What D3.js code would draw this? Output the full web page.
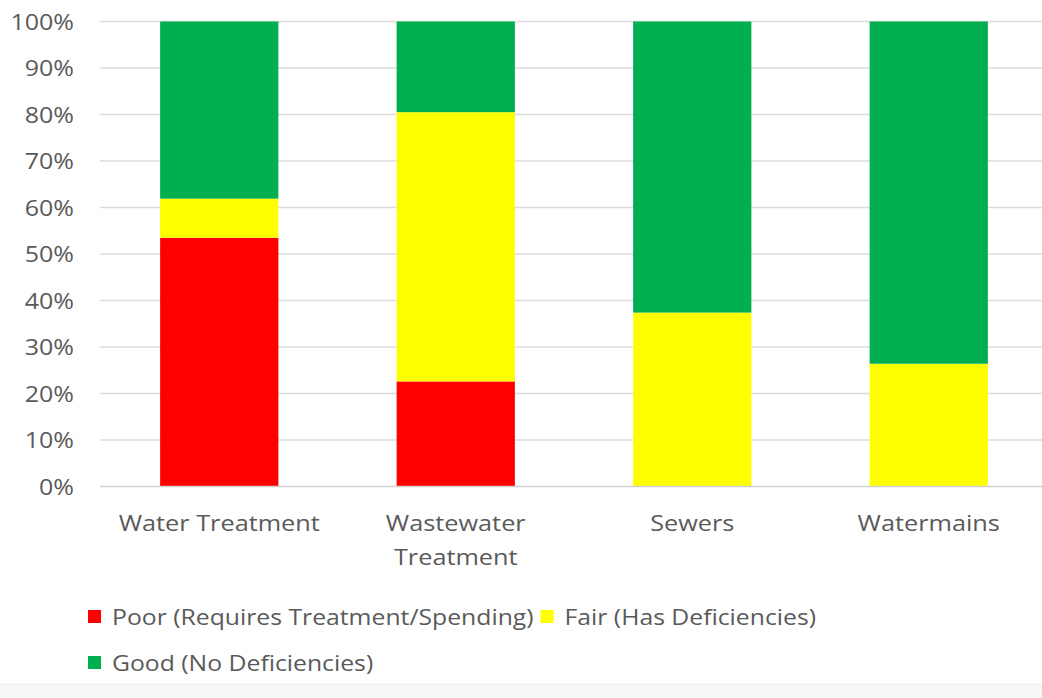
<!DOCTYPE html>
<html>
<head>
<meta charset="utf-8">
<script src="https://cdn.jsdelivr.net/npm/d3@7"></script>
<style>
  html, body { margin: 0; padding: 0; background: #ffffff; }
  svg { display: block; }
  text { font-family: "Open Sans", sans-serif; fill: #5a5a5a; }
</style>
</head>
<body>
<svg id="chart" width="1042" height="698"></svg>
<script>
// ---- data ----
const categories = ["Water Treatment", "Wastewater Treatment", "Sewers", "Watermains"];
const seriesNames = ["Poor (Requires Treatment/Spending)", "Fair (Has Deficiencies)", "Good (No Deficiencies)"];
const poorValues = [53.5, 22.6, 0, 0];
const fairValues = [8.4, 57.9, 37.4, 26.4];
const goodValues = [38.1, 19.5, 62.6, 73.6];
const yTicks = [0, 10, 20, 30, 40, 50, 60, 70, 80, 90, 100];
const seriesColors = ["#ff0000", "#ffff00", "#00b050"];

// ---- build table ----
const keys = ["poor", "fair", "good"];
const table = categories.map((c, i) => ({
  category: c, poor: poorValues[i], fair: fairValues[i], good: goodValues[i]
}));
const stacked = d3.stack().keys(keys)(table);

const svg = d3.select("#chart");
const W = 1042, H = 698;

// faint bottom strip
svg.append("rect").attr("x", 0).attr("y", 684).attr("width", W).attr("height", H - 684).attr("fill", "#f6f6f6");
svg.append("line").attr("x1", 0).attr("x2", W).attr("y1", 684).attr("y2", 684).attr("stroke", "#ececec");

const x = d3.scaleBand().domain(categories).range([101, 1047]).paddingInner(0.5).paddingOuter(0.25);
const y = d3.scaleLinear().domain([0, 100]).range([486.5, 21.5]);

// gridlines
svg.append("g").selectAll("line").data(yTicks.filter(t => t > 0)).join("line")
  .attr("x1", 100).attr("x2", W)
  .attr("y1", d => y(d)).attr("y2", d => y(d))
  .attr("stroke", "#dcdcdc").attr("stroke-width", 1.5);

// y axis labels
const yAxis = d3.axisLeft(y).tickValues(yTicks).tickFormat(d => d + "%").tickSize(0).tickPadding(0);
const yg = svg.append("g").attr("transform", "translate(74,0)").call(yAxis);
yg.select(".domain").remove();
yg.selectAll("text").style("font-size", "21px").style("font-family", "'Open Sans', sans-serif")
  .attr("fill", "#5a5a5a").attr("dy", "0.36em").attr("transform", "scale(1.19,1)");

// bars
svg.append("g").selectAll("g").data(stacked).join("g")
  .attr("fill", (d, i) => seriesColors[i])
  .selectAll("rect").data(d => d).join("rect")
  .attr("x", d => x(d.data.category))
  .attr("width", x.bandwidth())
  .attr("y", d => y(d[1]))
  .attr("height", d => Math.max(0, y(d[0]) - y(d[1])));

// baseline
svg.append("line").attr("x1", 100).attr("x2", W).attr("y1", y(0)).attr("y2", y(0))
  .attr("stroke", "#d0d0d0").attr("stroke-width", 1.5);

// x axis labels with wrapping
const catScale = 1.15;
const xAxis = d3.axisBottom(x).tickSize(0).tickPadding(0);
const xg = svg.append("g").attr("transform", `translate(0,${y(0)})`).call(xAxis);
xg.select(".domain").remove();
xg.selectAll("text").each(function(d) {
  const t = d3.select(this);
  t.text(null).attr("y", 0).attr("dy", null)
    .style("font-size", "22px").style("font-family", "'Open Sans', sans-serif").attr("fill", "#5a5a5a")
    .attr("transform", `scale(${catScale},1)`);
  const words = d.split(" ");
  let lines = [], line = [];
  const tmp = t.append("tspan");
  words.forEach(w => {
    line.push(w);
    tmp.text(line.join(" "));
    if (tmp.node().getComputedTextLength() * catScale > x.step() * 0.95 && line.length > 1) {
      line.pop(); lines.push(line.join(" ")); line = [w];
    }
  });
  lines.push(line.join(" "));
  tmp.remove();
  lines.forEach((l, i) => {
    t.append("tspan").attr("x", 0).attr("y", 45 + i * 33.5).text(l);
  });
});

// legend
const legScale = 1.125;
const legend = svg.append("g");
const rowYs = [625, 671];
const items = [
  { name: seriesNames[0], color: seriesColors[0], row: 0 },
  { name: seriesNames[1], color: seriesColors[1], row: 0 },
  { name: seriesNames[2], color: seriesColors[2], row: 1 }
];
let cursor = [88, 88];
items.forEach(it => {
  const by = rowYs[it.row];
  const cx = cursor[it.row];
  legend.append("rect").attr("x", cx).attr("y", by - 15).attr("width", 13).attr("height", 13).attr("fill", it.color);
  const tx = legend.append("text").attr("x", 0).attr("y", 0)
    .attr("transform", `translate(${cx + 24},${by}) scale(${legScale},1)`)
    .style("font-size", "22px").text(it.name);
  const w = tx.node().getComputedTextLength() * legScale;
  cursor[it.row] = cx + 24 + w + 7;
});
</script>
</body>
</html>
